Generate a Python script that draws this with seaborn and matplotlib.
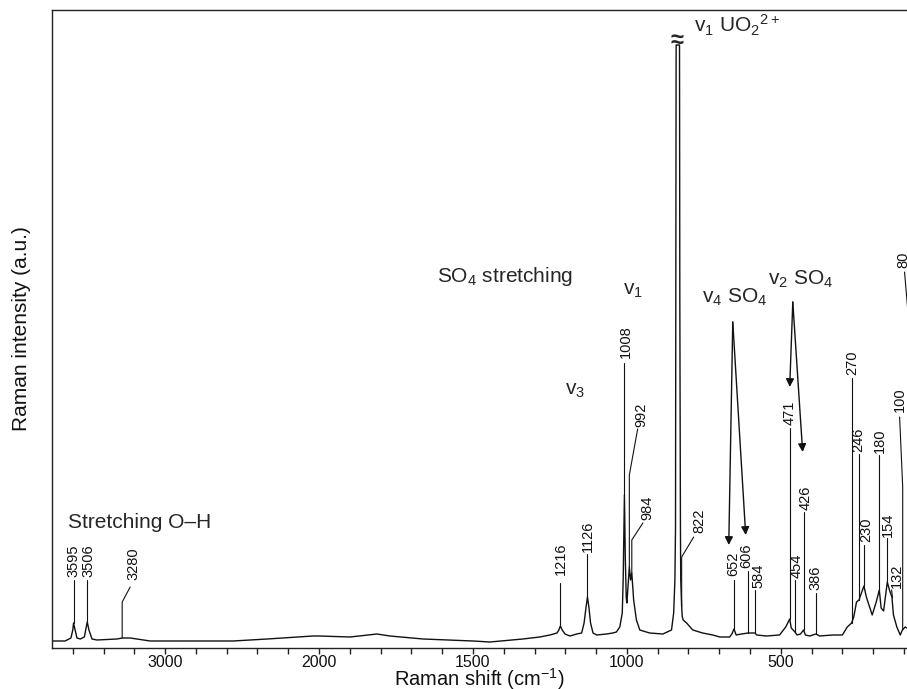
import numpy as np
import matplotlib
matplotlib.use("Agg")
import matplotlib.pyplot as plt
import seaborn as sns

# -----------------------------
# spectrum (Raman shift cm-1, intensity a.u.)
# -----------------------------
shift = [3730, 3650, 3612, 3600, 3595, 3585, 3573, 3551, 3525, 3516, 3506, 3495, 3475, 3443,
         3313, 3279, 3227, 3183, 3097, 3000, 2772, 2558, 2337, 2039, 2000, 1899, 1812, 1770,
         1662, 1500, 1445, 1338, 1283, 1250, 1227, 1221, 1216, 1210, 1201, 1185, 1163, 1147,
         1139, 1133, 1128, 1123, 1118, 1110, 1098, 1066, 1046, 1034, 1023, 1015, 1012, 1008,
         1005, 1002, 1000, 992, 988, 984, 978, 969, 958, 926, 883, 855, 848, 844, 842, 841,
         840, 829, 828, 826, 825, 822, 820, 817, 806, 786, 754, 721, 698, 666, 659, 652, 645,
         628, 606, 584, 578, 547, 504, 484, 471, 466, 454, 447, 436, 426, 420, 406, 386, 374,
         332, 300, 284, 270, 263, 254, 246, 230, 222, 203, 190, 180, 174, 166, 154, 147, 139,
         134, 123, 112, 105, 96, 91]
intensity = [7, 7, 10, 18, 25, 18, 10, 9, 11, 18, 26, 18, 9, 8,
             9, 10, 10, 9, 7, 7, 7, 7, 9, 12, 12, 11, 14, 12,
             9, 7, 6, 9, 11, 13, 15, 18, 22, 18, 14, 12, 14, 15,
             25, 40, 51, 40, 25, 15, 13, 14, 15, 16, 21, 35, 68, 153,
             88, 50, 45, 81, 68, 75, 48, 28, 18, 15, 14, 18, 35, 68, 120, 350,
             603, 603, 350, 120, 68, 41, 31, 28, 25, 18, 15, 13, 11, 11, 14, 19, 13,
             14, 15, 15, 13, 12, 13, 21, 29, 20, 16, 13, 14, 18, 13, 12, 14, 12,
             13, 13, 21, 25, 31, 46, 48, 62, 51, 33, 46, 58, 40, 37, 66, 58, 51,
             33, 21, 13, 18, 21, 20]

# peak labels: text, line x, line bottom, line top, line tip, text position
label_names = ["3595", "3506", "3280", "1216", "1126", "1008", "992", "984", "822",
               "652", "606", "584", "471", "454", "426", "386", "270", "246", "230",
               "180", "154", "132", "100", "80"]
line_x = [3595, 3506, 3279, 1216, 1128, 1008, 992, 984, 822,
          652, 606, 584, 471, 454, 426, 386, 270, 246, 230,
          180, 154, 137, 104, 80]
line_bottom = [25, 26, 10, 22, 51, 153, 81, 75, 41,
               19, 15, 15, 29, 16, 18, 14, 25, 48, 62,
               58, 66, 50, 18, 20]
line_top = [68, 68, 46, 65, 94, 285, 173, 108, 91,
            68, 77, 58, 220, 68, 136, 55, 270, 194, 103,
            193, 110, 50, 161, 311]
tip_x = [3595, 3506, 3227, 1216, 1128, 1008, 965, 948, 783,
         652, 606, 584, 471, 454, 426, 386, 270, 246, 230,
         180, 154, 140, 114, 98]
tip_y = [68, 68, 61, 65, 94, 285, 219, 125, 111,
         68, 77, 58, 220, 68, 136, 55, 270, 194, 103,
         193, 110, 58, 231, 376]
text_x = [3597, 3500, 3207, 1214, 1127, 1003, 952, 932, 766,
          653, 611, 572, 471, 448, 419, 387, 267, 247, 224,
          179, 153, 124, 114, 101]
text_y = [71, 71, 68, 73, 96, 290, 221, 128, 115,
          72, 80, 60, 223, 70, 138, 58, 273, 196, 106,
          195, 111, 60, 236, 380]

# arrows (start -> head)
arrow_x0 = [656, 656, 461, 461]
arrow_y0 = [326, 326, 346, 346]
arrow_x1 = [669, 614, 471, 429]
arrow_y1 = [103, 113, 261, 196]

major_ticks = [3000, 2000, 1500, 1000, 500]
minor_ticks = [3600, 3400, 3200, 2800, 2600, 2400, 2200] + \
              [v for v in range(1900, 0, -100) if v not in major_ticks]

# -----------------------------
# style
# -----------------------------
sns.set_theme(style="ticks")
plt.rcParams["font.family"] = ["Liberation Sans", "DejaVu Sans"]
plt.rcParams["mathtext.default"] = "regular"


# broken axis: region above 2000 cm-1 is drawn at half scale
def fwd(w):
    w = np.asarray(w, dtype=float)
    return np.where(w > 2000, 2000 + (w - 2000) / 2, w)


def inv(u):
    u = np.asarray(u, dtype=float)
    return np.where(u > 2000, 2000 + (u - 2000) * 2, u)


fig = plt.figure(figsize=(9.07, 6.89), dpi=100)
ax = fig.add_axes([52 / 907, 41 / 689, 855 / 907, 638 / 689])
ax.set_xscale("function", functions=(fwd, inv))

sns.lineplot(x=shift, y=intensity, ax=ax, color="#111111", lw=1.0,
             sort=False, estimator=None)

ax.set_xlim(3735, 90)
ax.set_ylim(0, 638)

ax.set_xticks(major_ticks)
ax.set_xticklabels([str(t) for t in major_ticks])
ax.set_xticks(minor_ticks, minor=True)
ax.set_yticks([])
ax.tick_params(axis="x", which="both", direction="out", length=4, width=1,
               color="#222222", pad=1, labelsize=11.5, labelcolor="#111111")

for side in ["left", "bottom", "top"]:
    ax.spines[side].set_color("#222222")
    ax.spines[side].set_linewidth(1)
ax.spines["right"].set_visible(False)

ax.set_xlabel(r"Raman shift (cm$^{-1}$)", fontsize=14.5, labelpad=-3, color="#111111")
ax.set_ylabel("Raman intensity (a.u.)", fontsize=15, labelpad=15, color="#111111")

# peak labels with leader lines
for i, name in enumerate(label_names):
    ax.plot([line_x[i], line_x[i], tip_x[i]], [line_bottom[i], line_top[i], tip_y[i]],
            color="#111111", lw=0.8)
    ax.text(text_x[i], text_y[i], name, rotation=90, ha="center", va="bottom",
            fontsize=10.5, color="#111111")

# arrows
for i in range(len(arrow_x0)):
    ax.annotate("", xy=(arrow_x1[i], arrow_y1[i]), xytext=(arrow_x0[i], arrow_y0[i]),
                arrowprops=dict(arrowstyle="-|>", color="#111111", lw=1,
                                mutation_scale=12, shrinkA=0, shrinkB=0))

# band assignments
ax.text(3629, 120, "Stretching O–H", fontsize=15, ha="left", va="baseline")
ax.text(1617, 366, "SO$_4$ stretching", fontsize=15, ha="left", va="baseline")
ax.text(1201, 253, "v$_3$", fontsize=15, ha="left", va="baseline")
ax.text(1013, 353, "v$_1$", fontsize=15, ha="left", va="baseline")
ax.text(757, 345, "v$_4$ SO$_4$", fontsize=15, ha="left", va="baseline")
ax.text(543, 363, "v$_2$ SO$_4$", fontsize=15, ha="left", va="baseline")
ax.text(783, 615, "v$_1$ UO$_2$${}^{2+}$", fontsize=15, ha="left", va="baseline")
ax.text(836, 608, "≈", fontsize=17, fontweight="bold", ha="center", va="center")

fig.savefig("out.png", dpi=100)
